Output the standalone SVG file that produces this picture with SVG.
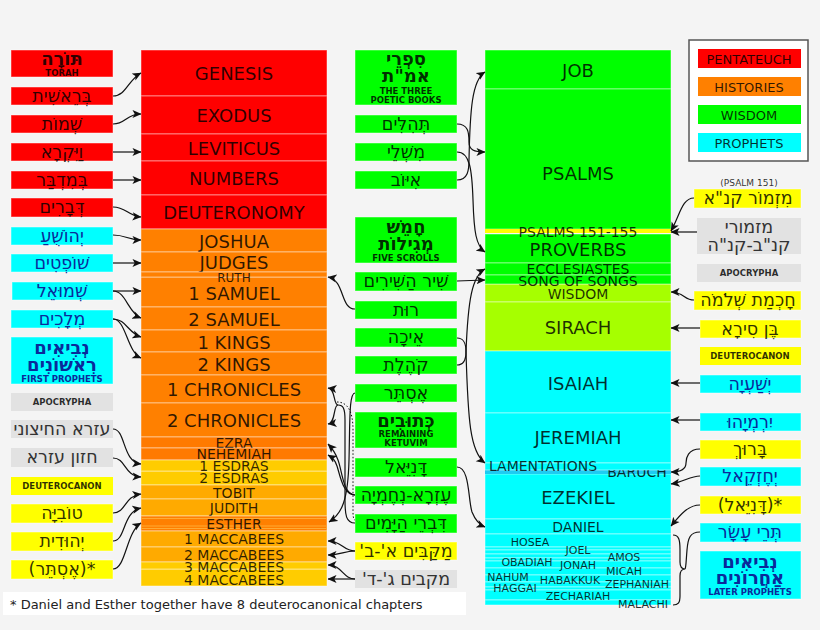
<svg xmlns="http://www.w3.org/2000/svg" width="820" height="630" viewBox="0 0 820 630">
<defs>
<style>
text{font-family:"DejaVu Sans","Noto Sans",sans-serif;text-anchor:middle;dominant-baseline:central;fill:#000;fill-opacity:.82}
.b{stroke:#fff;stroke-opacity:.45;stroke-width:1}
.r{fill:#ff0000}.o{fill:#ff8000}.y{fill:#ffff00}.g{fill:#00ff00}.c{fill:#00ffff}.gr{fill:#e2e2e2}
.gold{fill:#ffcc00}.amb{fill:#ffaa00}.lg{fill:#a6ff00}
.L{font-size:18px}.M{font-size:14px}.S{font-size:11px}
.h{font-size:17.5px}.hb{font-size:18px;font-weight:bold}.t{font-size:8.5px;font-weight:bold}
.bl{fill:#0a2a9a;fill-opacity:1}
.gt{fill:#333;fill-opacity:1}
.rtl{direction:rtl}
#conn path{fill:none;stroke:#111;stroke-width:1.2}
#conn .dot{stroke-dasharray:1.5 2;stroke-width:1}
</style>
<marker id="ah" viewBox="0 0 10 10" refX="9.5" refY="5" markerWidth="9" markerHeight="9" markerUnits="userSpaceOnUse" orient="auto"><path d="M0,0.5 L10,5 L0,9.5 L2.5,5 z" fill="#111"/></marker>
</defs>
<rect width="820" height="630" fill="#f4f4f4"/>

<!-- Left Hebrew column -->
<g id="torah"><rect class="r b" x="11" y="50" width="102" height="27"/><text class="hb" x="62" y="58">תּוֹרָה</text><text class="t" x="62" y="73">TORAH</text></g>
<g id="h-gen"><rect class="r b" x="11" y="87" width="102" height="18"/><text class="h" x="62" y="96">בְּרֵאשִׁית</text></g>
<g id="h-exo"><rect class="r b" x="11" y="115" width="102" height="18"/><text class="h" x="62" y="124">שְׁמוֹת</text></g>
<g id="h-lev"><rect class="r b" x="11" y="143" width="102" height="18"/><text class="h" x="62" y="152">וַיִּקְרָא</text></g>
<g id="h-num"><rect class="r b" x="11" y="171" width="102" height="18"/><text class="h" x="62" y="180">בְּמִדְבַּר</text></g>
<g id="h-deu"><rect class="r b" x="11" y="198" width="102" height="19"/><text class="h" x="62" y="207">דְּבָרִים</text></g>
<g id="h-jos"><rect class="c b" x="11" y="227" width="102" height="18"/><text class="h bl" x="62" y="236">יְהוֹשֻׁעַ</text></g>
<g id="h-jdg"><rect class="c b" x="11" y="254" width="102" height="18"/><text class="h bl" x="62" y="263">שׁוֹפְטִים</text></g>
<g id="h-sam"><rect class="c b" x="12" y="282" width="101" height="18"/><text class="h bl" x="62" y="291">שְׁמוּאֵל</text></g>
<g id="h-kgs"><rect class="c b" x="11" y="310" width="102" height="18"/><text class="h bl" x="62" y="319">מְלָכִים</text></g>
<g id="first-prophets"><rect class="c b" x="11" y="337" width="102" height="47"/><text class="hb bl" x="62" y="347">נְבִיאִים</text><text class="hb bl" x="62" y="364">רִאשׁוֹנִים</text><text class="t bl" x="62" y="379">FIRST PROPHETS</text></g>
<g id="apoc-l"><rect class="gr" x="11" y="393" width="102" height="18"/><text class="t" x="62" y="402">APOCRYPHA</text></g>
<g id="h-1esd"><rect class="gr" x="11" y="420" width="102" height="18"/><text class="h gt" x="62" y="429">עזרא החיצוני</text></g>
<g id="h-2esd"><rect class="gr" x="11" y="448" width="102" height="19"/><text class="h gt" x="62" y="457">חזון עזרא</text></g>
<g id="deut-l"><rect class="y" x="11" y="477" width="102" height="18"/><text class="t" x="62" y="486">DEUTEROCANON</text></g>
<g id="h-tob"><rect class="y b" x="11" y="504" width="102" height="19"/><text class="h" x="62" y="513">טוֹבִיָּה</text></g>
<g id="h-jdt"><rect class="y b" x="11" y="532" width="102" height="19"/><text class="h" x="62" y="541">יְהוּדִית</text></g>
<g id="h-est-add"><rect class="y b" x="11" y="560" width="102" height="19"/><text class="h" x="62" y="569">(אֶסְתֵּר)*</text></g>

<!-- Old Testament column -->
<g id="genesis"><rect class="r b" x="141" y="50" width="186" height="46"/><text class="L" x="234" y="73">GENESIS</text></g>
<g id="exodus"><rect class="r b" x="141" y="96" width="186" height="38"/><text class="L" x="234" y="115">EXODUS</text></g>
<g id="leviticus"><rect class="r b" x="141" y="134" width="186" height="27"/><text class="L" x="234" y="148">LEVITICUS</text></g>
<g id="numbers"><rect class="r b" x="141" y="161" width="186" height="34"/><text class="L" x="234" y="178">NUMBERS</text></g>
<g id="deuteronomy"><rect class="r b" x="141" y="195" width="186" height="34"/><text class="L" x="234" y="212">DEUTERONOMY</text></g>
<g id="joshua"><rect class="o b" x="141" y="229" width="186" height="23"/><text class="L" x="234" y="241">JOSHUA</text></g>
<g id="judges"><rect class="o b" x="141" y="252" width="186" height="20"/><text class="L" x="234" y="262">JUDGES</text></g>
<g id="1sam"><rect class="o b" x="141" y="277" width="186" height="30"/><text class="L" x="234" y="293">1 SAMUEL</text></g>
<g id="ruth"><rect class="o b" x="141" y="272" width="186" height="5"/><text style="font-size:12px" x="234" y="278">RUTH</text></g>
<g id="2sam"><rect class="o b" x="141" y="307" width="186" height="23"/><text class="L" x="234" y="319">2 SAMUEL</text></g>
<g id="1kgs"><rect class="o b" x="141" y="330" width="186" height="22"/><text class="L" x="234" y="342">1 KINGS</text></g>
<g id="2kgs"><rect class="o b" x="141" y="352" width="186" height="23"/><text class="L" x="234" y="364">2 KINGS</text></g>
<g id="1chr"><rect class="o b" x="141" y="375" width="186" height="28"/><text class="L" x="234" y="389">1 CHRONICLES</text></g>
<g id="2chr"><rect class="o b" x="141" y="403" width="186" height="34"/><text class="L" x="234" y="420">2 CHRONICLES</text></g>
<g id="ezra"><rect class="b" fill="#ff7a00" x="141" y="437" width="186" height="11"/><text class="M" x="234" y="443">EZRA</text></g>
<g id="nehemiah"><rect class="b" fill="#ff7a00" x="141" y="448" width="186" height="12"/><text class="M" x="234" y="454">NEHEMIAH</text></g>
<g id="2esd"><rect class="gold b" x="141" y="471" width="186" height="14"/><text class="M" x="234" y="478">2 ESDRAS</text></g>
<g id="1esd"><rect class="gold b" x="141" y="460" width="186" height="11"/><text class="M" x="234" y="466">1 ESDRAS</text></g>
<g id="tobit"><rect class="amb b" x="141" y="485" width="186" height="14"/><text class="M" x="234" y="493">TOBIT</text></g>
<g id="judith"><rect class="amb b" x="141" y="499" width="186" height="17"/><text class="M" x="234" y="508">JUDITH</text></g>
<g id="esther"><rect class="b" fill="#ff8000" x="141" y="516" width="186" height="15"/><path d="M141,518.5H327M141,526H327M141,528.5H327" stroke="#ffaa33" stroke-width="1"/><text class="M" x="234" y="524">ESTHER</text></g>
<g id="1mac"><rect class="amb b" x="141" y="531" width="186" height="16"/><text class="M" x="234" y="539">1 MACCABEES</text></g>
<g id="2mac"><rect class="amb b" x="141" y="547" width="186" height="15"/><text class="M" x="234" y="555">2 MACCABEES</text></g>
<g id="4mac"><rect class="gold b" x="141" y="569" width="186" height="17"/><text class="M" x="234" y="580">4 MACCABEES</text></g>
<g id="3mac"><rect class="gold b" x="141" y="562" width="186" height="7"/><text class="M" x="234" y="567">3 MACCABEES</text></g>

<!-- Ketuvim Hebrew column -->
<g id="poetic"><rect class="g b" x="355" y="50" width="102" height="55"/><text class="hb" x="406" y="58">סִפְרֵי</text><text class="hb" x="406" y="75">אמ"ת</text><text class="t" x="406" y="91">THE THREE</text><text class="t" x="406" y="100">POETIC BOOKS</text></g>
<g id="h-psa"><rect class="g b" x="355" y="115" width="102" height="18"/><text class="h" x="406" y="124">תְּהִלִּים</text></g>
<g id="h-pro"><rect class="g b" x="355" y="143" width="102" height="18"/><text class="h" x="406" y="152">מִשְׁלֵי</text></g>
<g id="h-job"><rect class="g b" x="355" y="171" width="102" height="18"/><text class="h" x="406" y="180">אִיּוֹב</text></g>
<g id="scrolls"><rect class="g b" x="355" y="217" width="102" height="46"/><text class="hb" x="406" y="226">חָמֵשׁ</text><text class="hb" x="406" y="243">מְגִילוֹת</text><text class="t" x="406" y="258">FIVE SCROLLS</text></g>
<g id="h-song"><rect class="g b" x="355" y="272" width="102" height="19"/><text class="h" x="406" y="281">שִׁיר הַשִּׁירִים</text></g>
<g id="h-ruth"><rect class="g b" x="355" y="301" width="102" height="18"/><text class="h" x="406" y="310">רוּת</text></g>
<g id="h-lam"><rect class="g b" x="355" y="328" width="102" height="19"/><text class="h" x="406" y="337">אֵיכָה</text></g>
<g id="h-ecc"><rect class="g b" x="355" y="356" width="102" height="18"/><text class="h" x="406" y="365">קֹהֶלֶת</text></g>
<g id="h-est"><rect class="g b" x="355" y="384" width="102" height="18"/><text class="h" x="406" y="393">אֶסְתֵּר</text></g>
<g id="ketuvim"><rect class="g b" x="355" y="412" width="102" height="36"/><text class="hb" x="406" y="420">כְּתוּבִים</text><text class="t" x="406" y="434">REMAINING</text><text class="t" x="406" y="443">KETUVIM</text></g>
<g id="h-dan"><rect class="g b" x="355" y="458" width="102" height="19"/><text class="h" x="406" y="467">דָּנִיֵּאל</text></g>
<g id="h-ezn"><rect class="g b" x="355" y="486" width="102" height="18"/><text class="h" x="406" y="495">עֶזְרָא-נְחֶמְיָה</text></g>
<g id="h-chr"><rect class="g b" x="355" y="514" width="102" height="19"/><text class="h" x="406" y="523">דִּבְרֵי הַיָּמִים</text></g>
<g id="h-mac12"><rect class="y b" x="355" y="542" width="102" height="18"/><text class="h rtl" x="406" y="551">מַקַּבִּים א'-ב'</text></g>
<g id="h-mac34"><rect class="gr" x="355" y="570" width="102" height="18"/><text class="h gt rtl" x="406" y="579">מקבים ג'-ד'</text></g>

<!-- Wisdom / Prophets column -->
<g id="job"><rect class="g b" x="485" y="50" width="186" height="39"/><text class="L" x="578" y="70">JOB</text></g>
<g id="psalms"><rect class="g b" x="485" y="89" width="186" height="140"/><text class="L" x="578" y="173">PSALMS</text></g>
<g id="proverbs"><rect class="g b" x="485" y="234" width="186" height="29"/><text class="L" x="578" y="249">PROVERBS</text></g>
<g id="psalms151"><rect class="y" x="485" y="229" width="186" height="4"/><text class="M" x="578" y="232">PSALMS 151-155</text></g>
<g id="eccl"><rect class="g b" x="485" y="263" width="186" height="12"/><text class="M" x="578" y="269">ECCLESIASTES</text></g>
<g id="wisdom"><rect class="lg b" x="485" y="284" width="186" height="18"/><text class="M" x="578" y="294">WISDOM</text></g>
<g id="song"><rect class="g b" x="485" y="275" width="186" height="9"/><text class="M" x="578" y="281">SONG OF SONGS</text></g>
<g id="sirach"><rect class="lg b" x="485" y="302" width="186" height="49"/><text class="L" x="578" y="327">SIRACH</text></g>
<g id="isaiah"><rect class="c b" x="485" y="351" width="186" height="62"/><text class="L" x="578" y="383">ISAIAH</text></g>
<g id="jeremiah"><rect class="c b" x="485" y="413" width="186" height="50"/><text class="L" x="578" y="437">JEREMIAH</text></g>
<g id="ezekiel"><rect class="c b" x="485" y="474" width="186" height="45"/><text class="L" x="578" y="497">EZEKIEL</text></g>
<g id="baruch"><rect fill="#1ecbf2" x="485" y="470" width="186" height="4"/><text class="M" x="637" y="472">BARUCH</text></g>
<g id="lamentations"><rect class="c b" x="485" y="463" width="186" height="7"/><text class="M" x="543" y="466">LAMENTATIONS</text></g>
<g id="daniel"><rect class="c b" x="485" y="519" width="186" height="15"/><text class="M" x="578" y="527">DANIEL</text></g>
<g id="twelve">
<rect class="c b" x="485" y="534" width="186" height="13"/><rect class="c b" x="485" y="547" width="186" height="3"/><rect class="c b" x="485" y="550" width="186" height="4"/><rect class="c b" x="485" y="554" width="186" height="4"/><rect class="c b" x="485" y="558" width="186" height="3"/><rect class="c b" x="485" y="561" width="186" height="7"/><rect class="c b" x="485" y="568" width="186" height="7"/><rect class="c b" x="485" y="575" width="186" height="7"/><rect class="c b" x="485" y="582" width="186" height="5"/><rect class="c b" x="485" y="587" width="186" height="3"/><rect class="c b" x="485" y="590" width="186" height="10"/><rect class="c b" x="485" y="600" width="186" height="5"/>
<text class="S" x="530" y="542">HOSEA</text><text class="S" x="578" y="550">JOEL</text><text class="S" x="527" y="562">OBADIAH</text><text class="S" x="578" y="565">JONAH</text><text class="S" x="624" y="557">AMOS</text><text class="S" x="624" y="571">MICAH</text><text class="S" x="508" y="577">NAHUM</text><text class="S" x="570" y="580">HABAKKUK</text><text class="S" x="637" y="584">ZEPHANIAH</text><text class="S" x="515" y="588">HAGGAI</text><text class="S" x="578" y="596">ZECHARIAH</text><text class="S" x="643" y="604">MALACHI</text>
</g>

<!-- Legend -->
<g id="legend"><rect x="689" y="40" width="119" height="121" fill="#fff" stroke="#555" stroke-width="1.5"/>
<rect class="r" x="698" y="49" width="103" height="19"/><text style="font-size:13px" x="749" y="59">PENTATEUCH</text>
<rect class="o" x="698" y="77" width="103" height="19"/><text style="font-size:13px" x="749" y="87">HISTORIES</text>
<rect class="g" x="698" y="105" width="103" height="19"/><text style="font-size:13px" x="749" y="115">WISDOM</text>
<rect class="c" x="698" y="133" width="103" height="19"/><text style="font-size:13px" x="749" y="143">PROPHETS</text></g>

<!-- Right Hebrew column -->
<g id="h-ps151"><text style="font-size:9px" x="749" y="183">(PSALM 151)</text><rect class="y b" x="694" y="189" width="107" height="19"/><text class="h" x="748" y="198">מִזְמוֹר קנ"א</text></g>
<g id="h-ps152"><rect class="gr" x="697" y="218" width="104" height="36"/><text class="h gt" x="749" y="227">מזמורי</text><text class="h gt" x="749" y="245">קנ"ב-קנ"ה</text></g>
<g id="apoc-r"><rect class="gr" x="697" y="264" width="104" height="18"/><text class="t" x="749" y="273">APOCRYPHA</text></g>
<g id="h-wis"><rect class="y b" x="694" y="291" width="107" height="19"/><text class="h" x="748" y="300">חָכְמַת שְׁלֹמֹה</text></g>
<g id="h-sir"><rect class="y b" x="700" y="320" width="101" height="18"/><text class="h" x="750" y="329">בֶּן סִירָא</text></g>
<g id="deut-r"><rect class="y" x="700" y="347" width="101" height="18"/><text class="t" x="750" y="356">DEUTEROCANON</text></g>
<g id="h-isa"><rect class="c b" x="700" y="375" width="101" height="18"/><text class="h bl" x="750" y="384">יְשַׁעְיָה</text></g>
<g id="h-jer"><rect class="c b" x="700" y="413" width="101" height="18"/><text class="h bl" x="750" y="422">יִרְמְיָהוּ</text></g>
<g id="h-bar"><rect class="y b" x="700" y="440" width="101" height="19"/><text class="h" x="750" y="449">בָּרוּךְ</text></g>
<g id="h-eze"><rect class="c b" x="700" y="467" width="101" height="19"/><text class="h bl" x="750" y="476">יְחֶזְקֵאל</text></g>
<g id="h-dan-add"><rect class="y b" x="700" y="496" width="101" height="18"/><text class="h" x="750" y="505">(דָּנִיֵּאל)*</text></g>
<g id="h-twelve"><rect class="c b" x="700" y="523" width="101" height="19"/><text class="h bl" x="750" y="532">תְּרֵי עָשָׂר</text></g>
<g id="later-prophets"><rect class="c b" x="700" y="551" width="101" height="48"/><text class="hb bl" x="750" y="561">נְבִיאִים</text><text class="hb bl" x="750" y="577">אַחֲרוֹנִים</text><text class="t bl" x="750" y="592">LATER PROPHETS</text></g>

<!-- Footnote -->
<g id="footnote"><rect x="3" y="592" width="463" height="23" fill="#fff"/><text style="font-size:13px;text-anchor:start;fill:#222;fill-opacity:1" x="10" y="604">* Daniel and Esther together have 8 deuterocanonical chapters</text></g>

<!-- Connectors -->
<g id="conn">
<path marker-end="url(#ah)" d="M113,96 C126,96 128,80 141,73"/>
<path marker-end="url(#ah)" d="M113,124 C126,124 126,114 141,114"/>
<path marker-end="url(#ah)" d="M113,152 L141,152"/>
<path marker-end="url(#ah)" d="M113,180 L141,180"/>
<path marker-end="url(#ah)" d="M113,207 C126,207 128,216 141,217"/>
<path marker-end="url(#ah)" d="M113,235 C126,235 128,240 141,240"/>
<path marker-end="url(#ah)" d="M113,263 L141,263"/>
<path marker-end="url(#ah)" d="M113,291 L141,291"/>
<path marker-end="url(#ah)" d="M113,291 C126,291 128,313 141,318"/>
<path marker-end="url(#ah)" d="M113,319 C126,319 128,333 141,337"/>
<path marker-end="url(#ah)" d="M113,319 C126,319 127,352 141,358"/>
<path marker-end="url(#ah)" d="M113,429 C126,429 122,462 141,464"/>
<path marker-end="url(#ah)" d="M113,458 C126,458 124,476 141,477"/>
<path marker-end="url(#ah)" d="M113,513 C126,513 124,496 141,494"/>
<path marker-end="url(#ah)" d="M113,541 C126,541 122,512 141,508"/>
<path marker-end="url(#ah)" d="M113,569 C126,569 126,532 141,523"/>

<path marker-end="url(#ah)" d="M457,124 C468,124 469,132 469,142 C469,150 474,152 485,152"/>
<path marker-end="url(#ah)" d="M457,152 C470,152 472,170 473,200 C474,232 476,246 485,252"/>
<path marker-end="url(#ah)" d="M457,180 C468,180 469,170 469,160 C470,110 472,80 485,72"/>
<path marker-end="url(#ah)" d="M457,281 L485,280"/>
<path marker-end="url(#ah)" d="M355,309 C340,309 345,280 328,277"/>
<path marker-end="url(#ah)" d="M457,338 C465,338 466,345 466,352 C468,420 470,452 485,463"/>
<path marker-end="url(#ah)" d="M457,365 C465,365 466,358 466,352 C468,300 472,276 485,269"/>
<path marker-end="url(#ah)" d="M355,393 C349,393 350,420 349,460 C348,500 342,514 329,522"/>
<path marker-end="url(#ah)" d="M355,495 C343,495 342,470 338,460 C335,452 333,449 328,444"/>
<path marker-end="url(#ah)" d="M355,495 C343,495 340,475 337,466 C335,460 333,458 328,455"/>
<path d="M355,523 C346,523 345,515 345,500 L345,420 C345,408 343,405 338,405"/>
<path marker-end="url(#ah)" d="M338,405 C333,405 336,389 328,388"/>
<path marker-end="url(#ah)" d="M338,405 C333,405 336,423 328,424"/>
<path class="dot" d="M337,402 C348,402 353,412 353,430 L353,512 C353,518 354,520 355,520"/>
<path marker-end="url(#ah)" d="M457,467 C470,467 468,500 472,512 C476,522 480,525 485,527"/>
<path marker-end="url(#ah)" d="M355,551 C343,551 342,541 328,541"/>
<path marker-end="url(#ah)" d="M355,551 C343,551 342,555 328,555"/>
<path marker-end="url(#ah)" d="M355,579 C343,579 342,565 328,565"/>
<path marker-end="url(#ah)" d="M355,579 L328,579"/>

<path marker-end="url(#ah)" d="M694,198 C682,198 680,215 671,231"/>
<path marker-end="url(#ah)" d="M697,232 L671,232"/>
<path marker-end="url(#ah)" d="M694,300 C684,300 684,292 671,292"/>
<path marker-end="url(#ah)" d="M700,328 L671,328"/>
<path marker-end="url(#ah)" d="M700,383 L671,383"/>
<path marker-end="url(#ah)" d="M700,420 L671,420"/>
<path marker-end="url(#ah)" d="M700,449 C688,449 686,458 686,463 C686,470 680,472 671,472"/>
<path marker-end="url(#ah)" d="M700,476 C690,476 684,482 671,484"/>
<path marker-end="url(#ah)" d="M700,505 C688,505 680,515 671,526"/>
<path d="M673,535 C679,535 680,540 680,550 L680,562 C680,567 682,569 685,569 C682,569 680,571 680,576 L680,596 C680,603 678,605 673,605"/>
<path d="M700,532 C690,532 688,538 687,550 C686,562 686,568 685,569"/>
</g>
</svg>
